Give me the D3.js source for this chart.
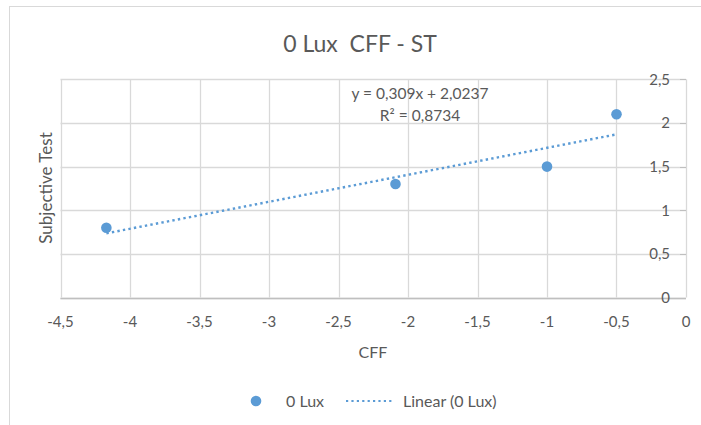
<!DOCTYPE html>
<html><head><meta charset="utf-8">
<script src="https://cdn.jsdelivr.net/npm/d3@7"></script>
<style>body{margin:0;background:#fff;}text{font-family:Lato,"Open Sans",sans-serif;fill:#595959;}</style>
</head><body><svg id="c" width="701" height="425"></svg>
<script>
const seriesName = "0 Lux";
const cffValues = [-4.17, -2.09, -1.0, -0.5];
const stValues = [0.8, 1.3, 1.5, 2.1];
const xTicks = [-4.5, -4, -3.5, -3, -2.5, -2, -1.5, -1, -0.5, 0];
const yTicks = [0, 0.5, 1, 1.5, 2, 2.5];
const trendCoef = [0.309, 2.0237]; // slope, intercept
const trendR2 = 0.8734;
const fmt = v => String(v).replace(".", ",");

const svg = d3.select("#c");
const W = 701, H = 425;
svg.append("rect").attr("x",9.5).attr("y",6.5).attr("width",W).attr("height",H).attr("fill","#fff").attr("stroke","#d9d9d9");

const m = {l:60.5, r:686, t:79.3, b:297.5};
const x = d3.scaleLinear().domain([-4.5,0]).range([m.l,m.r]);
const y = d3.scaleLinear().domain([0,2.5]).range([m.b,m.t]);

// gridlines
const g = svg.append("g");
g.selectAll("line.v").data(xTicks).join("line").attr("class","v")
 .attr("x1",d=>Math.round(x(d))+0.5).attr("x2",d=>Math.round(x(d))+0.5)
 .attr("y1",m.t).attr("y2",m.b).attr("stroke","#d9d9d9").attr("stroke-width",1.3);
g.selectAll("line.h").data(yTicks).join("line").attr("class","h")
 .attr("y1",d=>Math.round(y(d))+0.5).attr("y2",d=>Math.round(y(d))+0.5)
 .attr("x1",m.l).attr("x2",m.r).attr("stroke","#d9d9d9").attr("stroke-width",1.3);

// x axis line
svg.append("line").attr("x1",m.l).attr("x2",m.r).attr("y1",Math.round(y(0))+0.5).attr("y2",Math.round(y(0))+0.5)
 .attr("stroke","#bfbfbf").attr("stroke-width",1.5);
// y-axis ticks at right
svg.selectAll("line.yt").data(yTicks).join("line").attr("class","yt")
 .attr("x1",m.r-6).attr("x2",m.r).attr("y1",d=>Math.round(y(d))+0.5).attr("y2",d=>Math.round(y(d))+0.5)
 .attr("stroke","#bfbfbf");

// x tick labels
svg.selectAll("text.xt").data(xTicks).join("text").attr("class","xt")
 .attr("x",d=>x(d)).attr("y",327).attr("text-anchor","middle").attr("font-size",15).text(fmt);
// y tick labels
svg.selectAll("text.ytl").data(yTicks).join("text").attr("class","ytl")
 .attr("x",670).attr("y",d=>y(d)+5.5).attr("text-anchor","end").attr("font-size",15).text(fmt);

// trendline
const tx = d3.extent(cffValues);
const line = d3.line().x(d=>x(d[0])).y(d=>y(d[1]));
svg.append("path").datum(tx.map(v=>[v, trendCoef[0]*v+trendCoef[1]]))
 .attr("d",line).attr("fill","none").attr("stroke","#5b9bd5").attr("stroke-width",2.4)
 .attr("stroke-dasharray","2.4 3.2");

// points
svg.selectAll("circle.p").data(cffValues).join("circle").attr("class","p")
 .attr("cx",d=>x(d)).attr("cy",(d,i)=>y(stValues[i])).attr("r",5.3).attr("fill","#5b9bd5");

// equation
svg.append("text").attr("x",420).attr("y",99).attr("text-anchor","middle").attr("font-size",15.5)
 .text("y = " + fmt(trendCoef[0]) + "x + " + fmt(trendCoef[1]));
svg.append("text").attr("x",420).attr("y",121).attr("text-anchor","middle").attr("font-size",15.5)
 .text("R² = " + fmt(trendR2));

// title
svg.append("text").attr("x",360).attr("y",52).attr("text-anchor","middle").attr("font-size",23)
 .attr("xml:space","preserve").style("white-space","pre").text(seriesName + "  CFF - ST");

// axis titles
svg.append("text").attr("x",373).attr("y",358).attr("text-anchor","middle").attr("font-size",16).text("CFF");
svg.append("text").attr("transform","translate(52,188) rotate(-90)").attr("text-anchor","middle").attr("font-size",17).text("Subjective Test");

// legend
svg.append("circle").attr("cx",256).attr("cy",401).attr("r",5.3).attr("fill","#5b9bd5");
svg.append("text").attr("x",286).attr("y",406.5).attr("font-size",16).text(seriesName);
svg.append("line").attr("x1",346).attr("x2",394).attr("y1",401).attr("y2",401)
 .attr("stroke","#5b9bd5").attr("stroke-width",2.2).attr("stroke-dasharray","2.2 3.2");
svg.append("text").attr("x",403).attr("y",406.5).attr("font-size",16).text("Linear (" + seriesName + ")");
</script></body></html>
